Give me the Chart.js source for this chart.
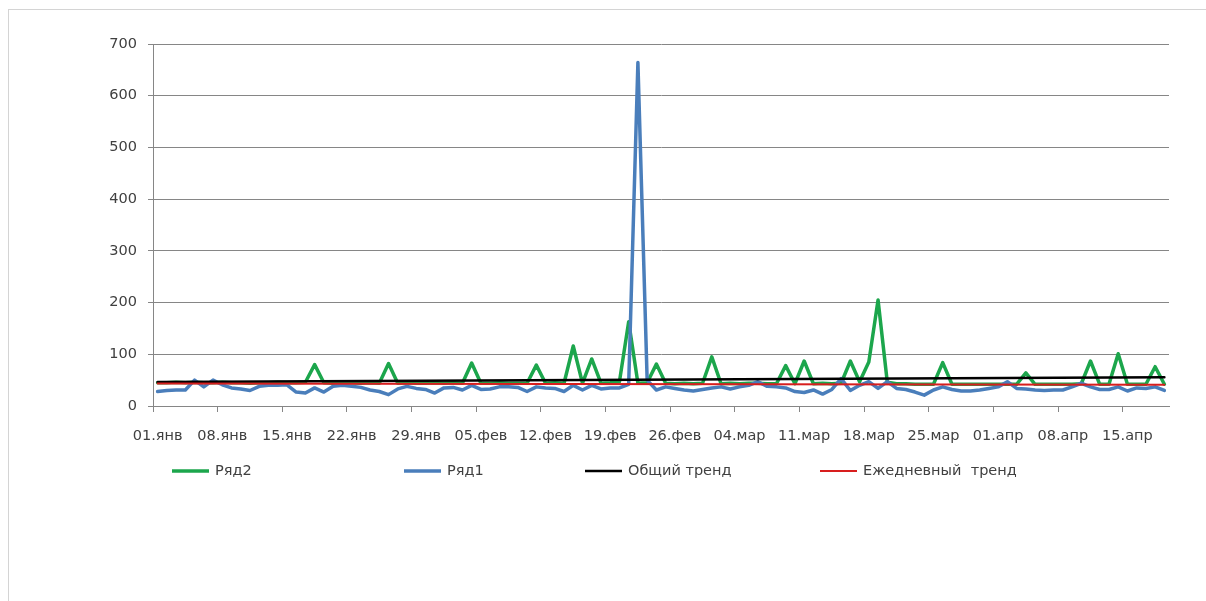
<!DOCTYPE html>
<html>
<head>
<meta charset="utf-8">
<title>Ряд1 / Ряд2</title>
<script src="https://cdn.jsdelivr.net/npm/chart.js@4.4.1/dist/chart.umd.min.js"></script>
<style>
  html, body { margin: 0; padding: 0; background: #fff; }
  #wrap { position: relative; width: 1206px; height: 601px; overflow: hidden; }
  #frame { position: absolute; left: 8px; top: 9px; width: 1220px; height: 620px; border: 1px solid #d4d4d4; }
  #dailyChart { position: absolute; left: 0; top: 0; }
</style>
</head>
<body>
<div id="wrap">
  <div id="frame"></div>
  <canvas id="dailyChart" width="1206" height="601"></canvas>
</div>
<script>
// days: 01.01 .. 19.04 (2012, leap year)
var months = ['янв', 'фев', 'мар', 'апр'];
var monthDays = [31, 29, 31, 19];

// Ряд2 - green series
var row2 = [
    45, 45, 46, 45, 46, 45, 45, 46, 45, 45,
    44, 45, 45, 46, 45, 45, 46, 80, 45, 44,
    45, 45, 44, 45, 44, 82, 44, 45, 44, 44,
    45, 44, 45, 44, 83, 44, 44, 45, 44, 44,
    44, 79, 44, 45, 44, 116, 44, 91, 44, 45,
    47, 163, 44, 45, 81, 44, 43, 44, 43, 44,
    95, 43, 44, 43, 44, 44, 43, 43, 78, 43,
    87, 43, 44, 43, 44, 87, 47, 85, 205, 46,
    43, 43, 42, 42, 42, 84, 42, 42, 42, 42,
    42, 42, 42, 42, 64, 42, 42, 42, 42, 42,
    43, 87, 42, 42, 101, 42, 42, 42, 76, 42
];

// Ряд1 - blue series
var row1 = [
    28, 30, 31, 31, 50, 37, 50, 41, 35, 33,
    30, 38, 40, 40, 41, 27, 25, 35, 27, 38,
    40, 38, 36, 31, 28, 22, 33, 38, 34, 32,
    25, 35, 36, 31, 40, 32, 33, 37, 37, 36,
    28, 37, 35, 34, 28, 40, 31, 40, 33, 35,
    35, 42, 664, 50, 31, 37, 34, 31, 29, 32,
    35, 37, 33, 37, 40, 47, 38, 37, 35, 28,
    26, 31, 23, 32, 53, 30, 40, 47, 34, 47,
    34, 32, 27, 21, 31, 37, 32, 29, 29, 31,
    34, 37, 47, 34, 33, 31, 30, 31, 31, 37,
    44, 37, 32, 32, 37, 29, 35, 34, 37, 30
];

// trend lines: value on the first and on the last day
var trendTotal = [46.5, 55.5];
var trendDaily = [43.5, 41];

var labels = [];
months.forEach(function (m, k) {
    for (var d = 1; d <= monthDays[k]; d++) {
        labels.push((d < 10 ? '0' : '') + d + '.' + m);
    }
});

function endPoints(pair) {
    return [{ x: labels[0], y: pair[0] }, { x: labels[labels.length - 1], y: pair[1] }];
}

var axisColor = '#868686';
var textColor = '#404040';
var fontFamily = '"DejaVu Sans", sans-serif';
var fontSize = 14.5;

// legend is drawn by hand, items are spread like in the excel sheet
var legendX = [172, 404, 585, 820];
var legendY = 471;
var lineLegend = {
    id: 'lineLegend',
    afterDraw: function (chart) {
        var c = chart.ctx;
        c.save();
        chart.data.datasets.forEach(function (ds, i) {
            var x = legendX[i];
            c.strokeStyle = ds.borderColor;
            c.lineWidth = ds.borderWidth;
            c.beginPath();
            c.moveTo(x, legendY);
            c.lineTo(x + 37, legendY);
            c.stroke();
            c.fillStyle = textColor;
            c.font = fontSize + 'px ' + fontFamily;
            c.textBaseline = 'middle';
            c.fillText(ds.label, x + 43, legendY);
        });
        c.restore();
    }
};

var ctx = document.getElementById('dailyChart');
var myChart = new Chart(ctx, {
    type: 'line',
    data: {
        labels: labels,
        datasets: [{
            label: 'Ряд2',
            data: row2,
            borderColor: '#1ca64c',
            borderWidth: 3.5,
            order: 4
        }, {
            label: 'Ряд1',
            data: row1,
            borderColor: '#4a7ebb',
            borderWidth: 3.5,
            order: 3
        }, {
            label: 'Общий тренд',
            data: endPoints(trendTotal),
            borderColor: '#000000',
            borderWidth: 2.5,
            order: 2
        }, {
            label: 'Ежедневный  тренд',
            data: endPoints(trendDaily),
            borderColor: '#d81e1e',
            borderWidth: 2,
            order: 1
        }]
    },
    options: {
        responsive: false,
        animation: false,
        layout: {
            padding: { left: 0, top: 44, right: 37, bottom: 150 }
        },
        elements: {
            point: { radius: 0, hoverRadius: 0 },
            line: { tension: 0, borderJoinStyle: 'round', borderCapStyle: 'round', fill: false }
        },
        plugins: {
            legend: { display: false },
            tooltip: { enabled: false }
        },
        scales: {
            x: {
                type: 'category',
                offset: true,
                afterFit: function (scale) { scale.height = 45; },
                grid: {
                    offset: true,
                    drawOnChartArea: false,
                    tickLength: 6,
                    tickColor: function (c) { return c.index % 7 === 0 ? axisColor : 'rgba(0,0,0,0)'; }
                },
                border: { display: true, color: axisColor, width: 1 },
                ticks: {
                    autoSkip: false,
                    maxRotation: 0,
                    padding: 16,
                    color: textColor,
                    font: { family: fontFamily, size: fontSize },
                    callback: function (value, index) {
                        return index % 7 === 0 ? this.getLabelForValue(value) : '';
                    }
                }
            },
            y: {
                min: 0,
                max: 700,
                afterFit: function (scale) { scale.width = 153; },
                grid: {
                    color: axisColor,
                    tickColor: axisColor,
                    tickLength: 5
                },
                border: { display: true, color: axisColor, width: 1 },
                ticks: {
                    stepSize: 100,
                    padding: 11,
                    color: textColor,
                    font: { family: fontFamily, size: fontSize }
                }
            }
        }
    },
    plugins: [lineLegend]
});
</script>
</body>
</html>
